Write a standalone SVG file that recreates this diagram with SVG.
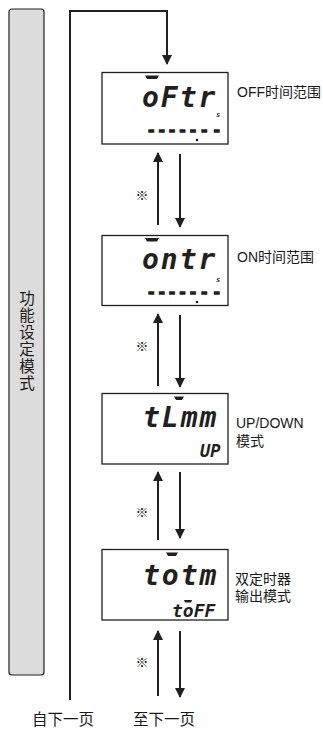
<svg xmlns="http://www.w3.org/2000/svg" width="323" height="729" viewBox="0 0 323 729">
<defs>
<marker id="ah" viewBox="0 0 10 10" refX="9" refY="5" markerWidth="10" markerHeight="10" markerUnits="userSpaceOnUse" orient="auto">
<path d="M0,0 L10,5 L0,10 z" fill="#231f20"/>
</marker>
</defs>
<style>
.ln{fill:none;stroke:#231f20;stroke-width:2}
.box{fill:#fff;stroke:#231f20;stroke-width:1.3}
.lbl{font-family:"Liberation Sans","Noto Sans CJK SC",sans-serif;font-size:14px;fill:#1a1a1a}
.cjk{font-family:"Noto Sans CJK SC",sans-serif;fill:#1a1a1a}
.seg{font-family:"DejaVu Sans Mono",monospace;font-weight:bold;font-style:oblique;fill:#231f20}
.dash{font-family:"DejaVu Sans Mono",monospace;font-weight:bold;font-size:14px;fill:#231f20;stroke:#231f20;stroke-width:1.6}
.bar{fill:#231f20}
.note{font-family:"Noto Sans CJK SC",sans-serif;font-size:13px;font-weight:bold;fill:#231f20}
</style>
<rect x="9" y="9" width="35" height="666" rx="3" fill="#dcdcdc" stroke="#231f20" stroke-width="1.2"/>
<text class="cjk" x="27" y="290" font-size="15.5" writing-mode="vertical-rl" letter-spacing="1.5">功能设定模式</text>
<g id="connectors">
<path class="ln" d="M70,700 V11 H167 V64" marker-end="url(#ah)"/>
<path class="ln" d="M158,225 V153" marker-end="url(#ah)"/>
<path class="ln" d="M180,154 V227" marker-end="url(#ah)"/>
<path class="ln" d="M158,386 V314" marker-end="url(#ah)"/>
<path class="ln" d="M180,315 V387" marker-end="url(#ah)"/>
<path class="ln" d="M158,540 V472" marker-end="url(#ah)"/>
<path class="ln" d="M180,472 V538" marker-end="url(#ah)"/>
<path class="ln" d="M158,696 V631" marker-end="url(#ah)"/>
<path class="ln" d="M180,631 V697" marker-end="url(#ah)"/>
<text class="note" x="142" y="200" text-anchor="middle">※</text>
<text class="note" x="142" y="351" text-anchor="middle">※</text>
<text class="note" x="142" y="517" text-anchor="middle">※</text>
<text class="note" x="142" y="667" text-anchor="middle">※</text>
</g>
<g id="node-oftr">
<rect class="box" x="102" y="72.5" width="126" height="71.5"/>
<text class="seg" x="142" y="107" font-size="28" letter-spacing="2">oFtr</text>
<polygon class="bar" points="145,75.5 159,75.5 157,79 147,79"/>
<text class="seg" x="216" y="117" font-size="7" font-style="normal">s</text>
<text class="dash" x="147" y="135" letter-spacing="2">-----</text>
<circle cx="197" cy="140" r="1.3" fill="#231f20"/>
<text class="dash" x="200" y="135" letter-spacing="4">--</text>
<text class="lbl" x="237" y="97">OFF时间范围</text>
</g>
<g id="node-ontr">
<rect class="box" x="102" y="235.5" width="126" height="70"/>
<text class="seg" x="142" y="269" font-size="28" letter-spacing="2">ontr</text>
<polygon class="bar" points="145,238 159,238 157,241.5 147,241.5"/>
<text class="seg" x="216" y="282" font-size="7" font-style="normal">s</text>
<text class="dash" x="147" y="297" letter-spacing="2">-----</text>
<circle cx="197" cy="302" r="1.3" fill="#231f20"/>
<text class="dash" x="200" y="297" letter-spacing="4">--</text>
<text class="lbl" x="237" y="262">ON时间范围</text>
</g>
<g id="node-tlmm">
<rect class="box" x="102" y="393.5" width="126" height="70.5"/>
<text class="seg" x="143" y="427" font-size="28" letter-spacing="2">tLmm</text>
<polygon class="bar" points="174,396.5 184,396.5 182,400 176,400"/>
<text class="seg" x="200" y="457" font-size="17" letter-spacing="0">UP</text>
<text class="lbl" x="236" y="428">UP/DOWN</text>
<text class="lbl" x="236" y="446">模式</text>
</g>
<g id="node-totm">
<rect class="box" x="102" y="549.5" width="126" height="70.5"/>
<text class="seg" x="143" y="585" font-size="28" letter-spacing="2">totm</text>
<polygon class="bar" points="166,552.5 178,552.5 176,556 168,556"/>
<text class="seg" x="172" y="617" font-size="18" letter-spacing="0">toFF</text>
<polygon class="bar" points="184,600 192,600 191,602.5 185,602.5"/>
<text class="lbl" x="235" y="584">双定时器</text>
<text class="lbl" x="235" y="601">输出模式</text>
</g>
<text class="cjk" x="32" y="725" font-size="15.5">自下一页</text>
<text class="cjk" x="133" y="725" font-size="15.5">至下一页</text>
</svg>
